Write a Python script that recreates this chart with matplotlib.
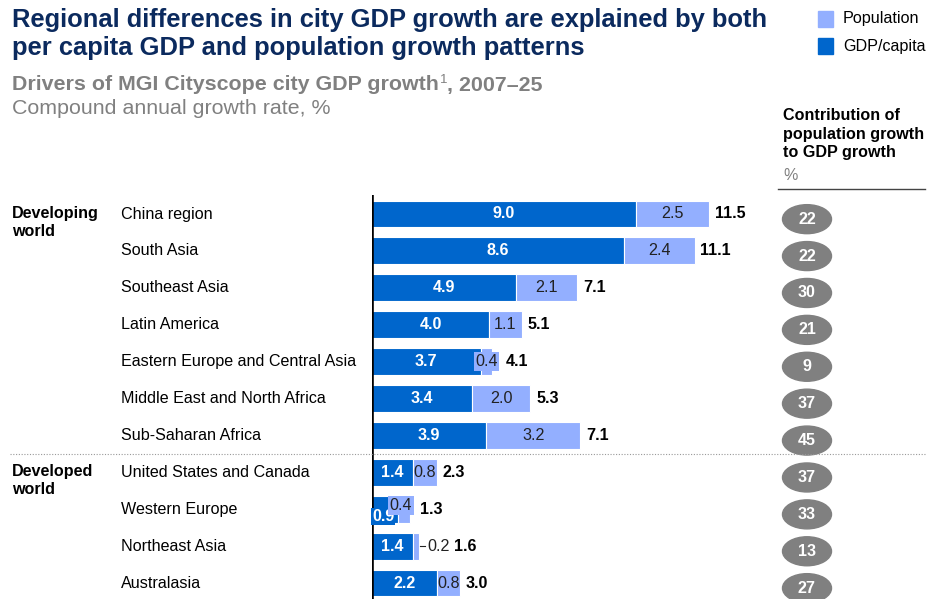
import matplotlib.pyplot as plt
from matplotlib.patches import Ellipse
from matplotlib.lines import Line2D

plt.rcParams['font.family'] = ['Liberation Sans', 'DejaVu Sans']

regions = ['China region', 'South Asia', 'Southeast Asia', 'Latin America',
           'Eastern Europe and Central Asia', 'Middle East and North Africa',
           'Sub-Saharan Africa', 'United States and Canada', 'Western Europe',
           'Northeast Asia', 'Australasia']
gdp_capita = [9.0, 8.6, 4.9, 4.0, 3.7, 3.4, 3.9, 1.4, 0.9, 1.4, 2.2]
population = [2.5, 2.4, 2.1, 1.1, 0.4, 2.0, 3.2, 0.8, 0.4, 0.2, 0.8]
totals = [11.5, 11.1, 7.1, 5.1, 4.1, 5.3, 7.1, 2.3, 1.3, 1.6, 3.0]
contribution = [22, 22, 30, 21, 9, 37, 45, 37, 33, 13, 27]
groups = [('Developing\nworld', 0), ('Developed\nworld', 7)]

DARK = '#0066cc'
LIGHT = '#93afff'
NAVY = '#0b2a5e'
GRAY = '#808080'
FS = 11.6

W, H = 929, 599
fig = plt.figure(figsize=(W / 100, H / 100), dpi=100)

def px(x, y):
    return x / W, 1 - y / H

# bar axes: x scale ~29.3 px per unit, row pitch ~36.9 px
x0, ppu = 372, 29.33
top, bot, row0, pitch = 195, 599, 214, 36.9
ax = fig.add_axes([x0 / W, 0, (W - x0) / W, (bot - top) / H])
ax.set_xlim(0, (W - x0) / ppu)
ax.set_ylim((bot - row0) / pitch, (top - row0) / pitch)
ax.axis('off')

ys = list(range(len(regions)))
ax.barh(ys, gdp_capita, height=0.73, color=DARK, edgecolor='white', linewidth=0.8)
ax.barh(ys, population, left=gdp_capita, height=0.73, color=LIGHT,
        edgecolor='white', linewidth=0.8)
ax.plot([0, 0], [(top - row0) / pitch, (bot - row0) / pitch], color='black',
        lw=2.6, solid_capstyle='butt')

for i, (g, p, t, c) in enumerate(zip(gdp_capita, population, totals, contribution)):
    if regions[i] == 'Western Europe':
        ax.text(0.0, i + 0.2, f'{g:.1f}', color='white', fontsize=FS, fontweight='bold',
                ha='left', va='center',
                bbox=dict(boxstyle='square,pad=0.05', fc=DARK, ec='none'))
        ax.text(0.6, i - 0.1, f'{p:.1f}', color='#222222', fontsize=FS,
                ha='left', va='center',
                bbox=dict(boxstyle='square,pad=0.1', fc=LIGHT, ec='none'))
        ax.text(1.65, i, f'{t:.1f}', fontsize=FS, fontweight='bold', ha='left', va='center')
    elif regions[i] == 'Northeast Asia':
        ax.text(g / 2, i, f'{g:.1f}', color='white', fontsize=FS, fontweight='bold',
                ha='center', va='center')
        ax.plot([g + p + 0.05, g + p + 0.2], [i, i], color='#222222', lw=0.8)
        ax.text(g + p + 0.3, i, f'{p:.1f}', color='#222222', fontsize=FS,
                ha='left', va='center')
        ax.text(g + p + 1.2, i, f'{t:.1f}', fontsize=FS, fontweight='bold',
                ha='left', va='center')
    elif p < 0.6:
        ax.text(g / 2, i, f'{g:.1f}', color='white', fontsize=FS, fontweight='bold',
                ha='center', va='center')
        ax.text(g + p / 2, i, f'{p:.1f}', color='#222222', fontsize=FS,
                ha='center', va='center',
                bbox=dict(boxstyle='square,pad=0.1', fc=LIGHT, ec='none'))
        ax.text(g + p + 0.45, i, f'{t:.1f}', fontsize=FS, fontweight='bold',
                ha='left', va='center')
    else:
        ax.text(g / 2, i, f'{g:.1f}', color='white', fontsize=FS, fontweight='bold',
                ha='center', va='center')
        ax.text(g + p / 2, i, f'{p:.1f}', color='#222222', fontsize=FS,
                ha='center', va='center')
        ax.text(g + p + 0.2, i, f'{t:.1f}', fontsize=FS, fontweight='bold',
                ha='left', va='center')
    bx = (807 - x0) / ppu
    ax.add_patch(Ellipse((bx, i + 0.14), 49 / ppu, 29 / pitch, color=GRAY,
                         clip_on=False))
    ax.text(bx, i + 0.14, str(c), color='white', fontsize=FS, fontweight='bold',
            ha='center', va='center', clip_on=False)

# row and group labels
for i, name in enumerate(regions):
    fig.text(*px(121, row0 + pitch * i), name, fontsize=FS, va='center', ha='left')
for label, i in groups:
    fig.text(*px(12, row0 + pitch * i - 8), label, fontsize=FS, fontweight='bold',
             va='top', ha='left', linespacing=1.25)

# separator between groups
yy = 1 - 454 / H
fig.add_artist(Line2D([10 / W, 925 / W], [yy, yy], color='#999999', lw=0.8,
                      linestyle=(0, (1, 1.5))))

# titles
fig.text(*px(12, 8), 'Regional differences in city GDP growth are explained by both\n'
         'per capita GDP and population growth patterns', fontsize=18.4,
         fontweight='bold', color=NAVY, va='top', ha='left', linespacing=1.22)
sub = fig.text(*px(12, 85), 'Drivers of MGI Cityscope city GDP growth', fontsize=15.4,
               fontweight='bold', color=GRAY, va='center', ha='left')
fig.canvas.draw()
sub_end = sub.get_window_extent().x1
fig.text(sub_end / W + 1 / W, 1 - 80 / H, '1', fontsize=9.5, color=GRAY,
         va='center', ha='left')
fig.text(sub_end / W + 8 / W, 1 - 85 / H, ', 2007–25', fontsize=15.4, fontweight='bold',
         color=GRAY, va='center', ha='left')
fig.text(*px(12, 109), 'Compound annual growth rate, %', fontsize=15.4, color=GRAY,
         va='center', ha='left')

# legend
for yc, col, lab in [(19, LIGHT, 'Population'), (46, DARK, 'GDP/capita')]:
    fig.patches.append(plt.Rectangle(px(818, yc + 8), 15 / W, 16 / H, color=col,
                                     transform=fig.transFigure))
    fig.text(*px(843, yc), lab, fontsize=FS, va='center', ha='left')

# right column header
fig.text(*px(783, 108), 'Contribution of\npopulation growth\nto GDP growth',
         fontsize=FS, fontweight='bold', va='top', ha='left', linespacing=1.3)
fig.text(*px(783, 176), '%', fontsize=FS, color=GRAY, va='center', ha='left')
yl = 1 - 189 / H
fig.add_artist(Line2D([778 / W, 925 / W], [yl, yl], color='#444444', lw=1))

fig.savefig('out.png', dpi=100)
